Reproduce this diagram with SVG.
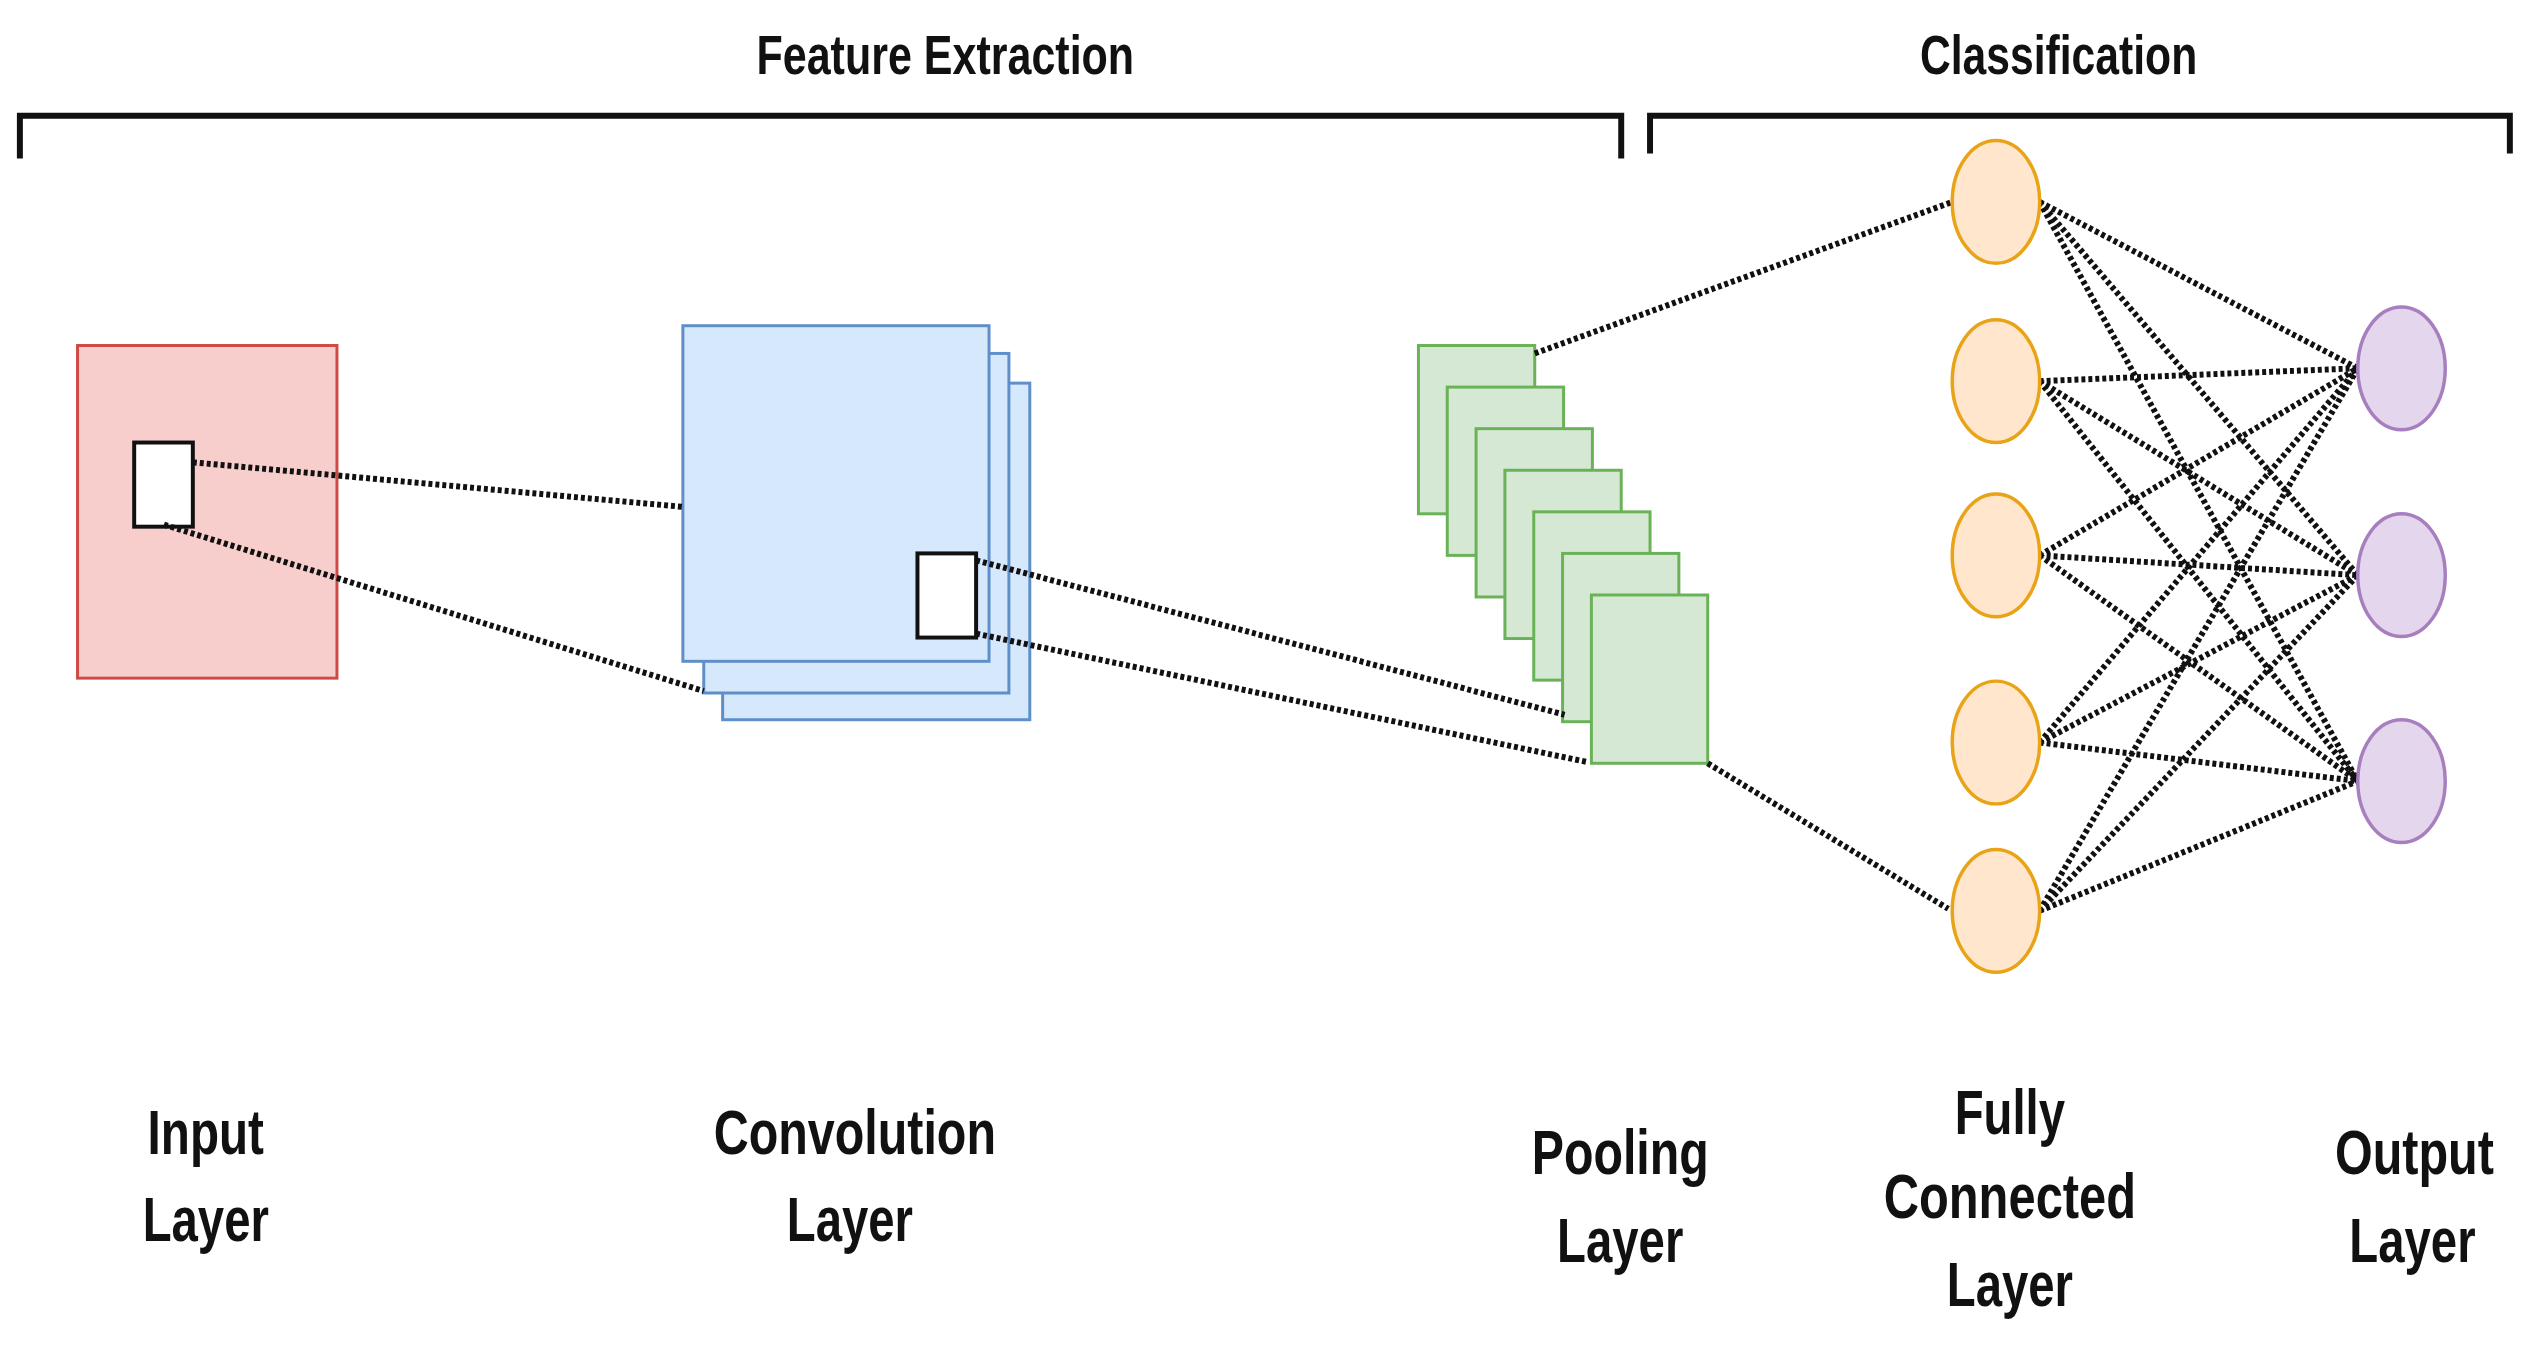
<svg xmlns="http://www.w3.org/2000/svg" width="2544" height="1355" viewBox="0 0 2544 1355">
<style>
text{font-family:"Liberation Sans",Arial,sans-serif;font-weight:bold;fill:#111;text-anchor:middle}
.t{font-size:56px}
.l{font-size:64px}
.br{fill:none;stroke:#111;stroke-width:6}
.d{stroke:#111;stroke-width:6;stroke-dasharray:4 3;fill:none}
.in{fill:#f8cecc;stroke:#d04a45;stroke-width:3}
.cv{fill:#d6e8fc;stroke:#5f8fc9;stroke-width:3}
.pl{fill:#d5e8d4;stroke:#6ab257;stroke-width:3}
.fc{fill:#ffe6cc;stroke:#e8a317;stroke-width:3.5}
.op{fill:#e4d6ec;stroke:#a77fbf;stroke-width:3.5}
.w{fill:#fff;stroke:#111;stroke-width:4}
</style>
<g transform="scale(0.994 0.99)">
<g id="brackets">
<path class="br" d="M20 160V117H1631V160"/>
<path class="br" d="M1660 155V117H2525V155"/>
<text class="t" x="951" y="75" textLength="380" lengthAdjust="spacingAndGlyphs">Feature Extraction</text>
<text class="t" x="2071" y="75" textLength="279" lengthAdjust="spacingAndGlyphs">Classification</text>
</g>
<g id="input">
<rect class="in" x="78" y="349" width="261" height="336"/>
<rect class="w" x="135" y="447" width="59" height="85"/>
<text class="l" x="207" y="1166" textLength="117" lengthAdjust="spacingAndGlyphs">Input</text>
<text class="l" x="207" y="1254" textLength="127" lengthAdjust="spacingAndGlyphs">Layer</text>
</g>
<g id="conv">
<rect class="cv" x="727" y="387" width="309" height="340"/>
<rect class="cv" x="708" y="357" width="307" height="343"/>
<rect class="cv" x="687" y="329" width="308" height="339"/>
<rect class="w" x="923" y="559" width="59" height="85"/>
<text class="l" x="860" y="1166" textLength="284" lengthAdjust="spacingAndGlyphs">Convolution</text>
<text class="l" x="855" y="1254" textLength="127" lengthAdjust="spacingAndGlyphs">Layer</text>
</g>
<g id="pool">
<rect class="pl" x="1427" y="349" width="117" height="170"/>
<rect class="pl" x="1456" y="391" width="117" height="170"/>
<rect class="pl" x="1485" y="433" width="117" height="170"/>
<rect class="pl" x="1514" y="475" width="117" height="170"/>
<rect class="pl" x="1543" y="517" width="117" height="170"/>
<rect class="pl" x="1572" y="559" width="117" height="170"/>
<rect class="pl" x="1601" y="601" width="117" height="170"/>
<text class="l" x="1630" y="1186" textLength="178" lengthAdjust="spacingAndGlyphs">Pooling</text>
<text class="l" x="1630" y="1275" textLength="127" lengthAdjust="spacingAndGlyphs">Layer</text>
</g>
<g id="connectors">
<path class="d" d="M194 467L687 512M165 530L708 698M982 566L1574 722M982 640L1598 770M1544 357L1964 204M1718 771L1960 918"/>
<path class="d" d="M2052 204L2372 372M2052 204L2372 581M2052 204L2372 789M2052 385L2372 372M2052 385L2372 581M2052 385L2372 789M2052 561L2372 372M2052 561L2372 581M2052 561L2372 789M2052 750L2372 372M2052 750L2372 581M2052 750L2372 789M2052 920L2372 372M2052 920L2372 581M2052 920L2372 789"/>
</g>
<g id="fc">
<ellipse class="fc" cx="2008" cy="204" rx="44" ry="62"/>
<ellipse class="fc" cx="2008" cy="385" rx="44" ry="62"/>
<ellipse class="fc" cx="2008" cy="561" rx="44" ry="62"/>
<ellipse class="fc" cx="2008" cy="750" rx="44" ry="62"/>
<ellipse class="fc" cx="2008" cy="920" rx="44" ry="62"/>
<text class="l" x="2022" y="1145" textLength="111" lengthAdjust="spacingAndGlyphs">Fully</text>
<text class="l" x="2022" y="1230" textLength="254" lengthAdjust="spacingAndGlyphs">Connected</text>
<text class="l" x="2022" y="1319" textLength="127" lengthAdjust="spacingAndGlyphs">Layer</text>
</g>
<g id="output">
<ellipse class="op" cx="2416" cy="372" rx="44" ry="62"/>
<ellipse class="op" cx="2416" cy="581" rx="44" ry="62"/>
<ellipse class="op" cx="2416" cy="789" rx="44" ry="62"/>
<text class="l" x="2429" y="1186" textLength="160" lengthAdjust="spacingAndGlyphs">Output</text>
<text class="l" x="2427" y="1275" textLength="127" lengthAdjust="spacingAndGlyphs">Layer</text>
</g>
</g>
</svg>
